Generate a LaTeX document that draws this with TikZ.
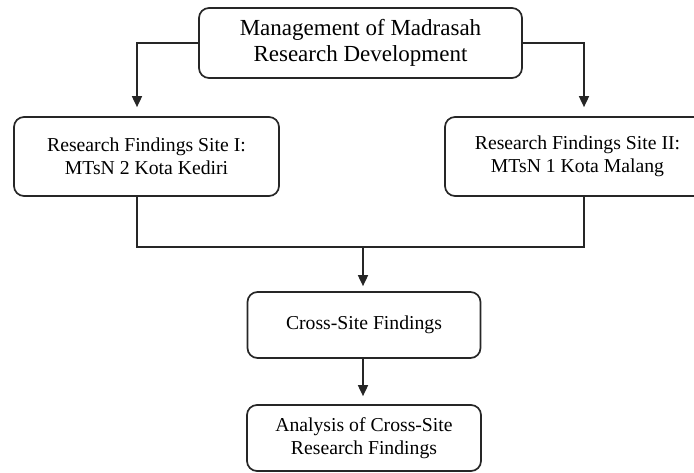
\documentclass[tikz,border=0pt]{standalone}
\usepackage{fontspec}
\setmainfont{Liberation Serif}
\usepackage{tikz}
\usetikzlibrary{arrows.meta, positioning}

\begin{document}
\begin{tikzpicture}[
  x=1pt, y=-1pt,
  every node/.style={font=\fontsize{19.7}{23}\selectfont},
  box/.style={draw=black!85, line width=1.7pt, rounded corners=10pt, align=center, inner sep=0pt, fill=white},
  arr/.style={-{Triangle[length=11pt, width=10pt]}, line width=1.7pt, draw=black!85},
  link/.style={line width=1.7pt, draw=black!85},
]
  \clip (0,0) rectangle (694,472);

  % Boxes
  \node[box, minimum width=323pt, minimum height=70pt, font=\fontsize{23}{26}\selectfont]
    (mgmt) at (360.5,43) {Management of Madrasah\\Research Development};
  \node[box, minimum width=265pt, minimum height=79pt] (site1) at (146.5,156.5)
    {Research Findings Site I:\\MTsN 2 Kota Kediri};
  \node[box, minimum width=265pt, minimum height=79pt] (site2) at (577.5,156.5)
    {Research Findings Site II:\\MTsN 1 Kota Malang};
  \node[box, minimum width=233pt, minimum height=66pt] (cross) at (364,325)
    {Cross-Site Findings};
  \node[box, minimum width=234pt, minimum height=66pt] (analysis) at (364,438)
    {Analysis of Cross-Site\\Research Findings};

  % Junction points
  \coordinate (jl) at (137,247);
  \coordinate (jr) at (584,247);
  \coordinate (jm) at (363,247);

  % Connectors
  \draw[arr, shorten >=9pt] (mgmt.west) -| (site1.north -| jl);
  \draw[arr, shorten >=9pt] (mgmt.east) -| (site2.north -| jr);
  \draw[link] (site1.south -| jl) -- (jl) -- (jr) -- (site2.south -| jr);
  \draw[arr, shorten >=5pt] (jm) -- (cross.north -| jm);
  \draw[arr, shorten >=8pt] (cross.south -| jm) -- (analysis.north -| jm);
\end{tikzpicture}
\end{document}
